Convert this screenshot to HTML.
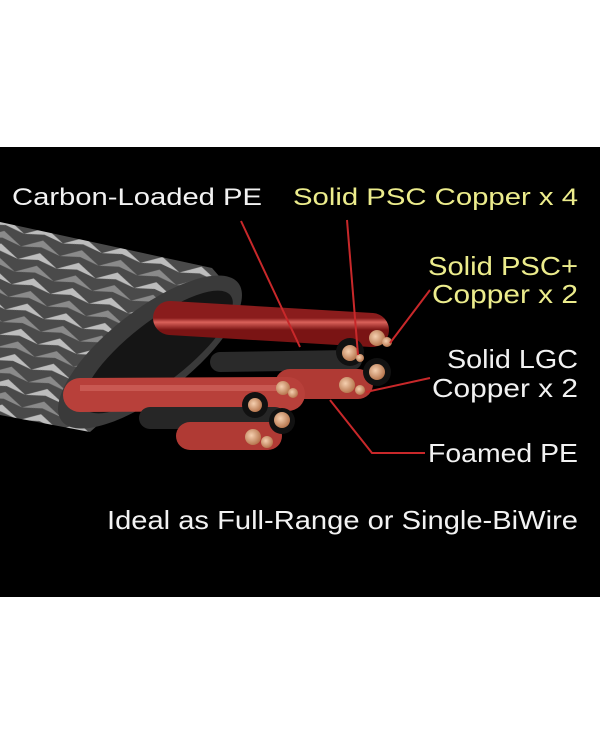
<!DOCTYPE html>
<html><head><meta charset="utf-8"><style>
html,body{margin:0;padding:0;background:#fff;width:600px;height:745px;overflow:hidden}
svg{display:block}
text{font-family:"Liberation Sans",sans-serif}
</style></head><body>
<svg width="600" height="745" viewBox="0 0 600 745" xmlns="http://www.w3.org/2000/svg">
<defs>
<pattern id="braid" width="40" height="26" patternUnits="userSpaceOnUse" patternTransform="rotate(14)">
<rect width="40" height="26" fill="#4a4a4a"/>
<path d="M0,13 L20,2 L40,13 L20,9 Z" fill="#bdbdbd"/>
<path d="M0,26 L20,15 L40,26 L20,22 Z" fill="#8a8a8a"/>
</pattern>
<linearGradient id="red" x1="0" y1="0" x2="0" y2="1">
<stop offset="0" stop-color="#8a1c1c"/><stop offset="0.35" stop-color="#d9615a"/><stop offset="1" stop-color="#7a1414"/>
</linearGradient>
<radialGradient id="cu" cx="0.4" cy="0.4" r="0.6">
<stop offset="0" stop-color="#f5d0b0"/><stop offset="1" stop-color="#b87850"/>
</radialGradient>
</defs>
<rect x="0" y="147" width="600" height="450" fill="#000"/>
<path d="M0,222 L212,268 L240,300 L90,432 L0,415 Z" fill="url(#braid)"/>
<ellipse cx="150" cy="352" rx="112" ry="42" transform="rotate(-38 150 352)" fill="#3a3a3a"/>
<ellipse cx="158" cy="352" rx="92" ry="30" transform="rotate(-38 158 352)" fill="#151515"/>
<path d="M170,318 L372,330" stroke="url(#red)" stroke-width="34" stroke-linecap="round" fill="none"/>
<path d="M220,362 L352,360" stroke="#2a2a2a" stroke-width="20" stroke-linecap="round"/>
<path d="M290,384 L358,384" stroke="#b03a34" stroke-width="30" stroke-linecap="round"/>
<path d="M80,395 L288,394" stroke="#b8403a" stroke-width="34" stroke-linecap="round"/>
<path d="M80,388 L288,388" stroke="#d56a62" stroke-width="6" opacity="0.6"/>
<path d="M150,418 L275,418" stroke="#262626" stroke-width="22" stroke-linecap="round"/>
<path d="M190,436 L268,436" stroke="#b03a34" stroke-width="28" stroke-linecap="round"/>
<circle cx="350" cy="352" r="14" fill="#111"/>
<circle cx="377" cy="372" r="14" fill="#111"/>
<circle cx="255" cy="405" r="13" fill="#111"/>
<circle cx="282" cy="421" r="13" fill="#111"/>
<g fill="url(#cu)">
<circle cx="377" cy="338" r="8"/><circle cx="387" cy="342" r="5"/>
<circle cx="350" cy="353" r="8"/><circle cx="360" cy="358" r="4"/>
<circle cx="377" cy="372" r="8"/>
<circle cx="347" cy="385" r="8"/><circle cx="360" cy="390" r="5"/>
<circle cx="283" cy="388" r="7"/><circle cx="293" cy="393" r="5"/>
<circle cx="255" cy="405" r="7"/>
<circle cx="282" cy="420" r="8"/>
<circle cx="253" cy="437" r="8"/><circle cx="267" cy="442" r="6"/>
</g>
<g stroke="#c8282a" stroke-width="2" fill="none">
<path d="M241,221 L300,347"/>
<path d="M347,220 L358,355"/>
<path d="M430,290 L390,343"/>
<path d="M430,378 L366,392"/>
<path d="M425,453 L372,453 L330,400"/>
</g>
<text x="12" y="205" font-size="24" fill="#f2f2f2" textLength="250" lengthAdjust="spacingAndGlyphs">Carbon-Loaded PE</text>
<text x="293" y="205" font-size="24" fill="#ecec8c" textLength="285" lengthAdjust="spacingAndGlyphs">Solid PSC Copper x 4</text>
<text x="428" y="275" font-size="26" fill="#ecec8c" textLength="150" lengthAdjust="spacingAndGlyphs">Solid PSC+</text>
<text x="432" y="303" font-size="26" fill="#ecec8c" textLength="146" lengthAdjust="spacingAndGlyphs">Copper x 2</text>
<text x="447" y="368" font-size="26" fill="#f2f2f2" textLength="131" lengthAdjust="spacingAndGlyphs">Solid LGC</text>
<text x="432" y="397" font-size="26" fill="#f2f2f2" textLength="146" lengthAdjust="spacingAndGlyphs">Copper x 2</text>
<text x="428" y="462" font-size="26" fill="#f2f2f2" textLength="150" lengthAdjust="spacingAndGlyphs">Foamed PE</text>
<text x="107" y="529" font-size="26" fill="#f2f2f2" textLength="471" lengthAdjust="spacingAndGlyphs">Ideal as Full-Range or Single-BiWire</text>
</svg>
</body></html>
